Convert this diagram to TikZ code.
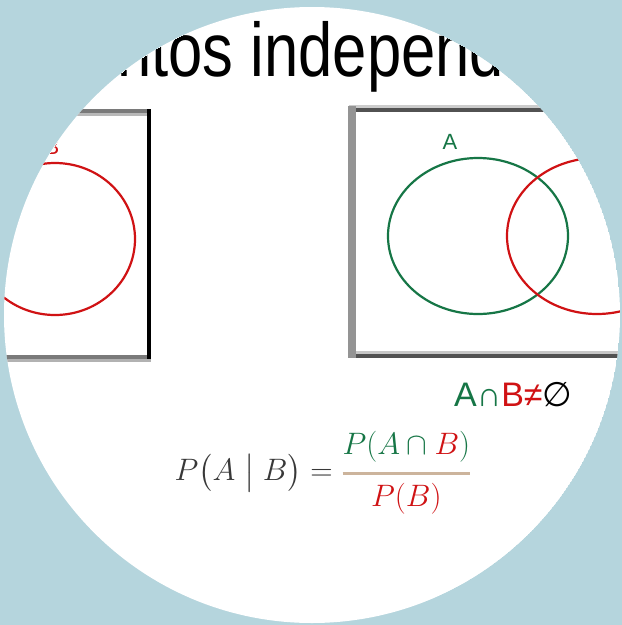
\RequirePackage{fix-cm}
\documentclass[tikz,border=0pt]{standalone}
\usepackage{amsmath,amssymb}
\usepackage[no-math]{fontspec}
\newfontfamily\arialfont{Liberation Sans}
\newfontfamily\dejavufont{DejaVu Sans}
\usetikzlibrary{shapes.geometric}
\definecolor{RimBlue}{RGB}{181,213,221}
\definecolor{SetGreen}{RGB}{22,118,70}
\definecolor{SetRed}{RGB}{208,18,20}
\definecolor{BarTan}{RGB}{204,180,156}
\definecolor{InkGray}{gray}{0.22}

\begin{document}
\begin{tikzpicture}[x=1pt,y=-1pt,
  venn/.style={draw,ellipse,line width=2.2pt,minimum width=180pt,minimum height=156pt,inner sep=0pt},
  setlabel/.style={inner sep=0pt,font=\fontsize{22}{22}\selectfont\arialfont},
  edgedark/.style={line width=4pt,draw=black!68},
  edgelight/.style={line width=3pt,draw=black!22}]
  \useasboundingbox (0,0) rectangle (622,625);
  \fill[RimBlue] (0,0) rectangle (622,625);
  \begin{scope}
    \clip (312,315) circle (308);
    \fill[white] (312,315) circle (308);
    % title
    \node[anchor=base west,inner sep=0pt,font=\fontsize{76}{80}\selectfont\arialfont] (title) at (11,76)
      {\scalebox{0.81}[1]{Eventos independientes}};
    % left box
    \draw[edgedark,draw=black!52] (-200,111) -- (149,111);
    \draw[edgelight,draw=black!28] (-200,114.5) -- (147,114.5);
    \draw[edgedark,draw=black!52] (-200,357) -- (149,357);
    \draw[edgelight,draw=black!30] (-200,360.5) -- (151,360.5);
    \draw[line width=4pt,draw=black] (149,109) -- (149,359);
    \node[venn,draw=SetRed,minimum width=160pt,minimum height=152pt] (setBl) at (55,239) {};
    \node[setlabel,text=SetRed] (labBl) at (52,147) {B};
    % right box
    \draw[edgelight,draw=black!20] (349,106.5) -- (680,106.5);
    \draw[edgedark] (352,110) -- (680,110);
    \draw[edgelight,draw=black!22] (356,352) -- (680,352);
    \draw[edgedark] (352,356) -- (680,356);
    \draw[line width=8pt,draw=black!42] (352,106) -- (352,358);
    \node[venn,draw=SetGreen] (setA) at (478,236) {};
    \node[venn,draw=SetRed] (setB) at (597,236) {};
    \node[setlabel,text=SetGreen] (labA) at (450,142) {A};
    % caption
    \node[anchor=base west,inner sep=0pt,font=\fontsize{34}{34}\selectfont\arialfont] (cap) at (454,406)
      {\textcolor{SetGreen}{A∩}\textcolor{SetRed}{B≠}{\dejavufont ∅}};
    % formula
    \node[inner sep=0pt,font=\fontsize{31}{32}\selectfont] (cond) at (323,473)
      {$\displaystyle \color{InkGray}P\bigl(A\bigm|B\bigr)={\color{BarTan}\genfrac{}{}{3pt}{0}{\color{SetGreen}P(A\cap{\color{SetRed}B})}{\color{SetRed}P(B)}}$};
  \end{scope}
\end{tikzpicture}
\end{document}
